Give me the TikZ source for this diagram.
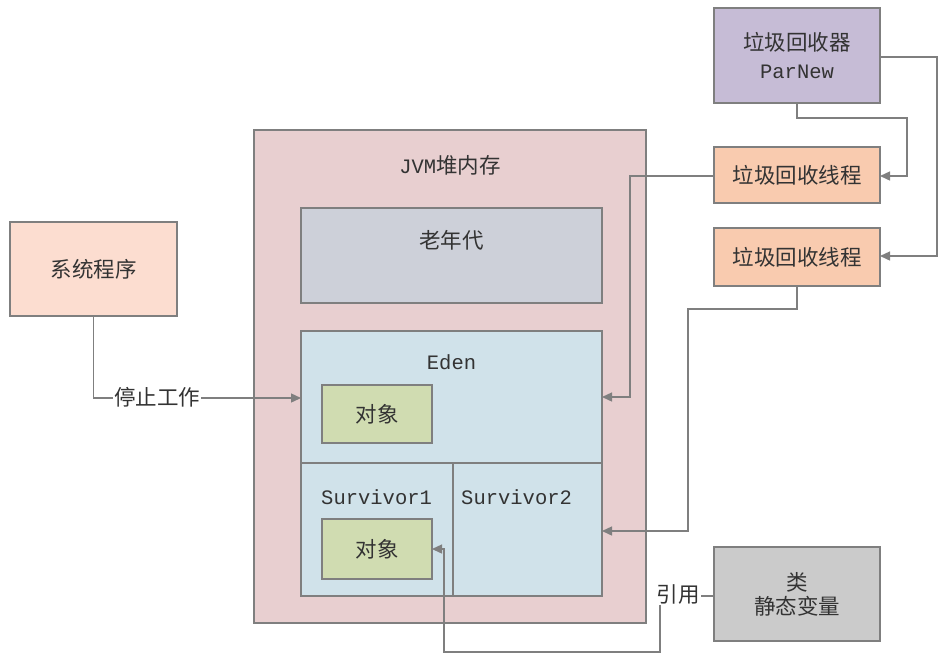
\documentclass[tikz,border=0pt]{standalone}
\usepackage{fontspec}
\setmonofont{Liberation Mono}
\newfontfamily\cjk{Noto Sans CJK SC}
\usetikzlibrary{arrows.meta}
\definecolor{lineg}{HTML}{7F7F7F}
\definecolor{txt}{HTML}{333333}
\definecolor{parnew}{HTML}{C6BCD6}
\definecolor{thread}{HTML}{F9CBAF}
\definecolor{jvm}{HTML}{E8CFD0}
\definecolor{oldgen}{HTML}{CDD0D9}
\definecolor{eden}{HTML}{D0E2EA}
\definecolor{obj}{HTML}{D0DCB1}
\definecolor{sysp}{HTML}{FCDDD0}
\definecolor{cls}{HTML}{CBCBCB}
\tikzset{
  box/.style={draw=lineg, line width=1.3pt, anchor=north west, inner sep=0pt, outer sep=0pt, text=txt, align=center, font=\cjk\fontsize{21.5}{28}\selectfont},
  conn/.style={draw=lineg, line width=1.4pt, -{Triangle[length=10pt,width=9pt]}},
  ttl/.style={text=txt, inner sep=0pt, font=\cjk\fontsize{21.5}{24}\selectfont},
  mono/.style={text=txt, inner sep=0pt, font=\ttfamily\fontsize{20.5}{24}\selectfont},
  lbl/.style={fill=white, text=txt, inner sep=1pt, font=\cjk\fontsize{21.5}{24}\selectfont}
}
\begin{document}
\begin{tikzpicture}[x=1pt,y=-1pt]
\useasboundingbox (0,0) rectangle (952,665);
% containers
\node[box, fill=jvm, minimum width=392pt, minimum height=493pt] (jvm) at (254,130) {};
\node[ttl, anchor=center] (jvmt) at (450,165) {{\ttfamily\fontsize{20.5}{24}\selectfont JVM}堆内存};
\node[box, fill=oldgen, minimum width=301pt, minimum height=95pt] (old) at (301,208) {};
\node[ttl] (oldt) at (451.5,240) {老年代};
\node[box, fill=eden, minimum width=301pt, minimum height=132pt] (eden) at (301,331) {};
\node[mono] (edent) at (451.5,362) {Eden};
\node[box, fill=eden, minimum width=152pt, minimum height=133pt] (s1) at (301,463) {};
\node[box, fill=eden, minimum width=149pt, minimum height=133pt] (s2) at (453,463) {};
\node[mono, anchor=west] (s1t) at (321,497) {Survivor1};
\node[mono, anchor=west] (s2t) at (461,497) {Survivor2};
\node[box, fill=obj, minimum width=110pt, minimum height=58pt] (o1) at (322,385) {对象};
\node[box, fill=obj, minimum width=110pt, minimum height=60pt] (o2) at (322,519) {对象};
% outside boxes
\node[box, fill=parnew, minimum width=166pt, minimum height=95pt] (pn) at (714,8) {垃圾回收器\\{\ttfamily\fontsize{20.5}{28}\selectfont ParNew}};
\node[box, fill=thread, minimum width=166pt, minimum height=56pt] (t1) at (714,147) {垃圾回收线程};
\node[box, fill=thread, minimum width=166pt, minimum height=58pt] (t2) at (714,228) {垃圾回收线程};
\node[box, fill=sysp, minimum width=167pt, minimum height=94pt] (sys) at (10,222) {系统程序};
\node[box, fill=cls, minimum width=166pt, minimum height=94pt] (cl) at (714,547) {类\\[-4pt]静态变量};
% connectors
\draw[conn] (pn.south) -- ++(0,15) -| (907,176) -- (t1.east |- 0,176);
\draw[conn] (pn.east |- 0,57) -- (937,57) -- (937,256) -- (t2.east |- 0,256);
\draw[conn] (t1.west |- 0,176) -- (630,176) -- (630,397) -- (eden.east |- 0,397);
\draw[conn] (t2.south) -- (797,309) -- (688,309) -- (688,531) -- (s2.east |- 0,531);
\draw[conn] (sys.south) -- (sys.south |- 0,398) -- (eden.west |- 0,398);
\node[lbl] (stop) at (157,397) {停止工作};
\draw[conn] (cl.west |- 0,596) -- (660,596) -- (660,652) -- (444,652) -- (444,549) -- (o2.east |- 0,549);
\node[lbl] (ref) at (678,594) {引用};
\end{tikzpicture}
\end{document}
